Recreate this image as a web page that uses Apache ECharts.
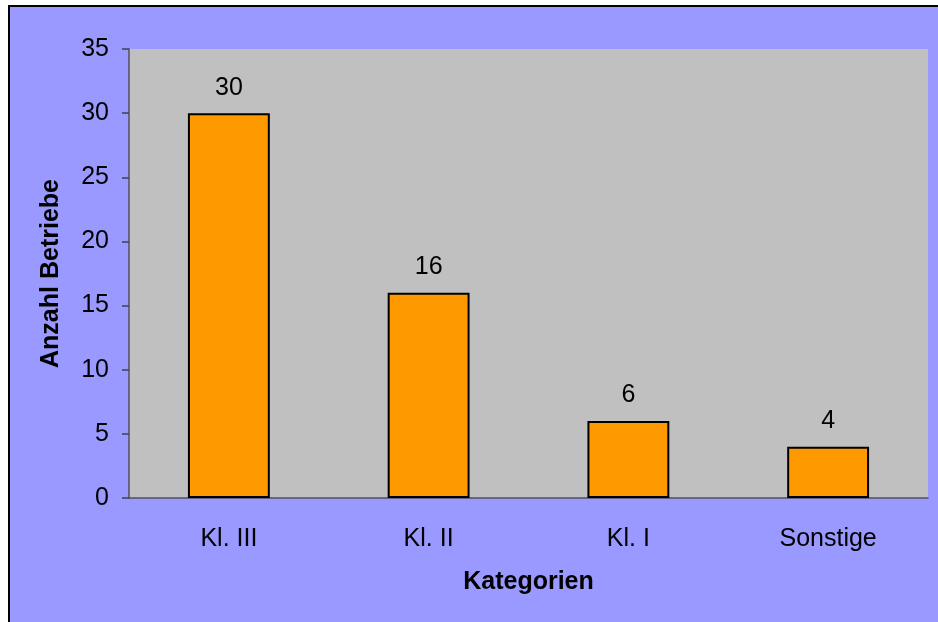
<!DOCTYPE html>
<html>
<head>
<meta charset="utf-8">
<script src="https://cdn.jsdelivr.net/npm/echarts@6/dist/echarts.min.js"></script>
<style>
  html, body { margin: 0; padding: 0; background: #fff; }
  #chart { width: 938px; height: 622px; }
</style>
</head>
<body>
<div id="chart"></div>
<script>
const categories = ['Kl. III', 'Kl. II', 'Kl. I', 'Sonstige'];
const betriebe = [30, 16, 6, 4];
const yTicks = [0, 5, 10, 15, 20, 25, 30, 35];

const chart = echarts.init(document.getElementById('chart'));

const labelFont = 'Arial, "Liberation Sans", sans-serif';

chart.setOption({
  animation: false,
  backgroundColor: '#ffffff',
  graphic: [
    {
      type: 'rect',
      z: -10,
      shape: { x: 9, y: 6, width: 1000, height: 1000 },
      style: { fill: '#9999FF', stroke: '#000000', lineWidth: 2 }
    }
  ],
  grid: {
    left: 129,
    right: 10,
    top: 49,
    bottom: 124,
    show: true,
    backgroundColor: '#C0C0C0',
    borderWidth: 0
  },
  xAxis: {
    type: 'category',
    data: categories,
    name: 'Kategorien',
    nameLocation: 'middle',
    nameGap: 72,
    nameTextStyle: { fontFamily: labelFont, fontSize: 25, fontWeight: 'bold', color: '#000' },
    axisLine: { lineStyle: { color: '#505060', width: 1.5 } },
    axisTick: { length: 8, lineStyle: { color: '#404050', width: 1.5 } },
    axisLabel: { fontFamily: labelFont, fontSize: 25, color: '#000', margin: 29 }
  },
  yAxis: {
    type: 'value',
    min: yTicks[0],
    max: yTicks[yTicks.length - 1],
    interval: 5,
    name: 'Anzahl Betriebe',
    nameLocation: 'middle',
    nameGap: 65,
    nameTextStyle: { fontFamily: labelFont, fontSize: 25, fontWeight: 'bold', color: '#000' },
    axisLine: { show: true, lineStyle: { color: '#505060', width: 1.5 } },
    axisTick: { show: true, length: 7, lineStyle: { color: '#404050', width: 1.5 } },
    axisLabel: { fontFamily: labelFont, fontSize: 25, color: '#000', margin: 20 },
    splitLine: { show: false }
  },
  series: [
    {
      type: 'bar',
      data: betriebe,
      barWidth: '41%',
      itemStyle: { color: '#FF9900', borderColor: '#000', borderWidth: 2 },
      label: {
        show: true,
        position: 'top',
        distance: 13,
        fontFamily: labelFont,
        fontSize: 25,
        color: '#000'
      }
    }
  ]
});
</script>
</body>
</html>
